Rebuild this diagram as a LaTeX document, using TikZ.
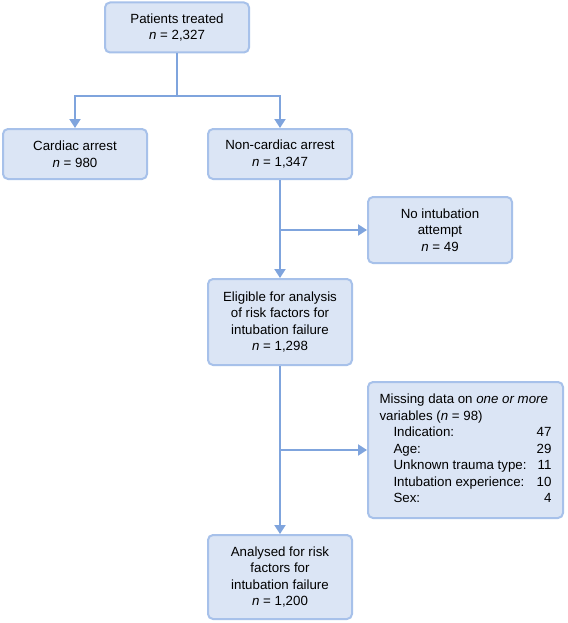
\documentclass[tikz,border=0pt]{standalone}
\usepackage{fontspec}
\setmainfont{Liberation Sans}
\usetikzlibrary{arrows.meta}
\definecolor{boxfill}{HTML}{DBE5F5}
\definecolor{boxedge}{HTML}{A7C1EA}
\definecolor{linec}{HTML}{7FA4DD}
\begin{document}
\begin{tikzpicture}[x=1pt,y=-1pt,
  box/.style={draw=boxedge, fill=boxfill, line width=2pt, rounded corners=5pt,
    align=center, inner sep=0pt, font=\fontsize{13.3}{16.5}\selectfont},
  conn/.style={draw=linec, line width=2pt},
  arr/.style={conn, -{Triangle[width=11pt,length=9pt]}}]
\path[use as bounding box, fill=white] (0,0) rectangle (567,623);

\node[box, minimum width=144pt, minimum height=50pt] (pt) at (177,27.5) {Patients treated\\\textit{n} = 2,327};
\node[box, minimum width=144pt, minimum height=50pt] (ca) at (75,154) {Cardiac arrest\\\textit{n} = 980};
\node[box, minimum width=144pt, minimum height=50pt] (nca) at (280,154) {Non-cardiac arrest\\\textit{n} = 1,347};
\node[box, minimum width=144pt, minimum height=66pt] (noi) at (440,230) {No intubation\\attempt\\\textit{n} = 49};
\node[box, minimum width=144pt, minimum height=86pt] (elig) at (280,322) {Eligible for analysis\\of risk factors for\\intubation failure\\\textit{n} = 1,298};
\node[box, minimum width=195pt, minimum height=136pt] (miss) at (465.5,450) {%
\begin{tabular*}{172pt}{@{}l@{\extracolsep{\fill}}r@{}}
\multicolumn{2}{@{}l@{}}{Missing data on \textit{one or more}}\\
\multicolumn{2}{@{}l@{}}{variables (\textit{n} = 98)}\\
\hspace{14pt}Indication: & 47\\
\hspace{14pt}Age: & 29\\
\hspace{14pt}Unknown trauma type: & 11\\
\hspace{14pt}Intubation experience: & 10\\
\hspace{14pt}Sex: & 4
\end{tabular*}};
\node[box, minimum width=144pt, minimum height=84pt] (ana) at (280,577) {Analysed for risk\\factors for\\intubation failure\\\textit{n} = 1,200};

\coordinate (split) at (177,96);
\draw[conn] (pt.south) -- (split);
\draw[arr] (split) -| (ca.north);
\draw[arr] (split) -| (nca.north);
\draw[arr] (nca.south) -- (elig.north);
\coordinate (b1) at (nca.south |- noi.west);
\draw[arr] (b1) -- (noi.west);
\draw[arr] (elig.south) -- (ana.north);
\coordinate (b2) at (elig.south |- miss.west);
\draw[arr] (b2) -- (miss.west);
\end{tikzpicture}
\end{document}
